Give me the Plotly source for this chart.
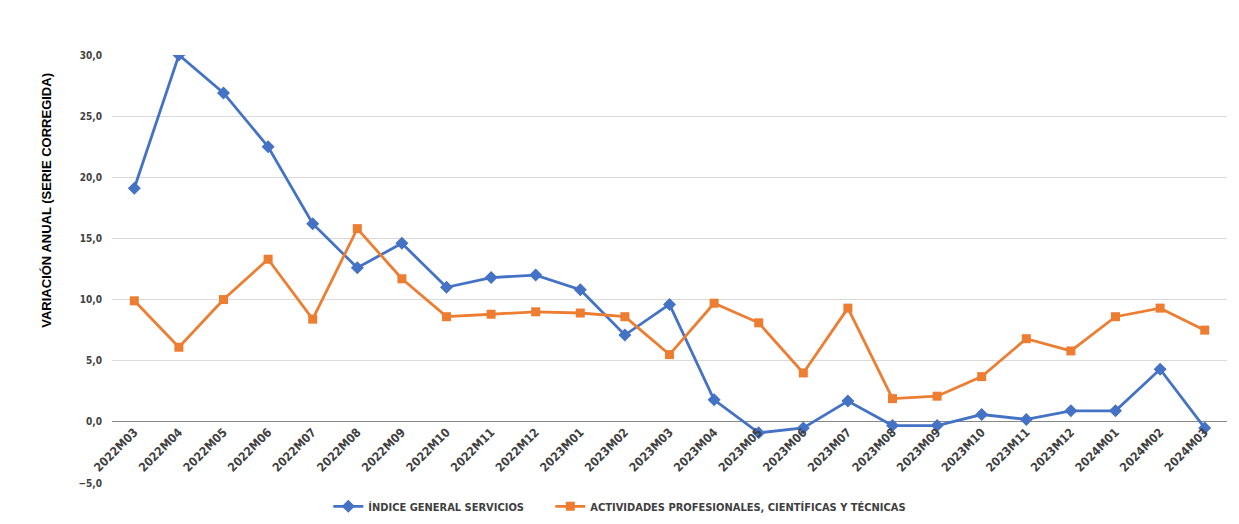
import plotly.graph_objects as go

categories = ["2022M03","2022M04","2022M05","2022M06","2022M07","2022M08","2022M09","2022M10",
              "2022M11","2022M12","2023M01","2023M02","2023M03","2023M04","2023M05","2023M06",
              "2023M07","2023M08","2023M09","2023M10","2023M11","2023M12","2024M01","2024M02","2024M03"]
indice_general = [19.1, 30.0, 26.9, 22.5, 16.2, 12.6, 14.6, 11.0, 11.8, 12.0, 10.8, 7.1, 9.6,
                  1.8, -0.9, -0.5, 1.7, -0.3, -0.3, 0.6, 0.2, 0.9, 0.9, 4.3, -0.5]
actividades = [9.9, 6.1, 10.0, 13.3, 8.4, 15.8, 11.7, 8.6, 8.8, 9.0, 8.9, 8.6, 5.5,
               9.7, 8.1, 4.0, 9.3, 1.9, 2.1, 3.7, 6.8, 5.8, 8.6, 9.3, 7.5]
y_min, y_max = -5, 30

narrow = "DejaVu Sans Condensed, Liberation Sans Narrow, Arial Narrow, sans-serif"
legend_font = dict(family=narrow, size=11, color="#404040", weight="bold")

fig = go.Figure()
fig.add_trace(go.Scatter(x=categories, y=indice_general, mode="lines+markers",
                         name="ÍNDICE GENERAL SERVICIOS", legend="legend",
                         line=dict(color="#4472C4", width=2.8),
                         marker=dict(symbol="diamond", size=10, color="#4472C4")))
fig.add_trace(go.Scatter(x=categories, y=actividades, mode="lines+markers",
                         name="ACTIVIDADES PROFESIONALES, CIENTÍFICAS Y TÉCNICAS", legend="legend2",
                         line=dict(color="#ED7D31", width=2.8),
                         marker=dict(symbol="square", size=9, color="#ED7D31")))

fig.update_layout(
    width=1239, height=524,
    margin=dict(l=104, r=20, t=47, b=48),
    paper_bgcolor="white", plot_bgcolor="white",
    separators=",.",
    showlegend=True,
    legend=dict(orientation="h", x=0.194, xanchor="left", y=-0.052, yanchor="middle",
                font=legend_font, itemwidth=30),
    legend2=dict(orientation="h", x=0.194 + 222 / 1115, xanchor="left", y=-0.052, yanchor="middle",
                 font=legend_font, itemwidth=30),
    xaxis=dict(type="category", anchor="free", automargin=False,
               range=[-0.5, len(categories) - 0.5],
               position=(0 - y_min) / (y_max - y_min),
               tickangle=-45, showgrid=False, showline=False, ticks="",
               tickfont=dict(family=narrow, size=12, color="#404040", weight="bold")),
    yaxis=dict(range=[y_min, y_max], dtick=5, tickformat=".1f", automargin=False,
               showgrid=True, gridcolor="#D9D9D9", gridwidth=1,
               zeroline=True, zerolinecolor="#868686", zerolinewidth=1.2,
               showline=False, ticks="", ticklabelstandoff=9,
               tickfont=dict(family=narrow, size=10, color="#404040", weight="bold")),
    annotations=[dict(text="VARIACIÓN ANUAL (SERIE CORREGIDA)", textangle=-90,
                      xref="paper", yref="paper", x=-0.059, y=0.66,
                      xanchor="center", yanchor="middle", showarrow=False,
                      font=dict(family="Liberation Sans, Arial, sans-serif", size=13,
                                color="#000000", weight="bold"))],
)

fig.write_html("out.html")
